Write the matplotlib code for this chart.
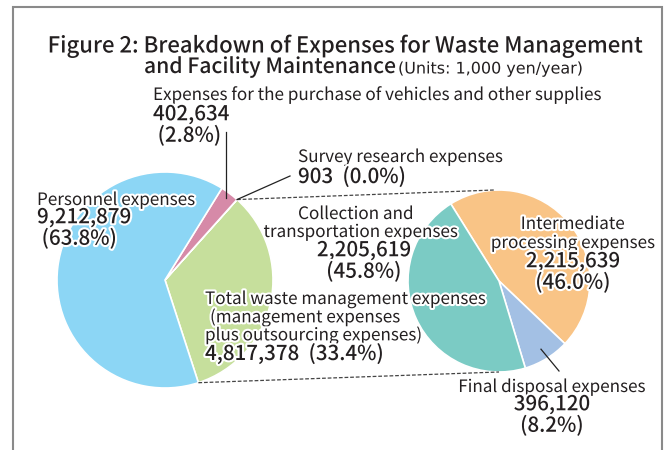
import numpy as np
import matplotlib.pyplot as plt
import matplotlib.patheffects as pe
from matplotlib.patches import Rectangle

plt.rcParams['font.family'] = ['Noto Sans CJK JP', 'DejaVu Sans']

# left pie: overall expenses (1,000 yen/year)
left_labels = ['Total waste management expenses', 'Survey research expenses',
               'Expenses for the purchase of vehicles and other supplies', 'Personnel expenses']
left_values = [4817378, 903, 402634, 9212879]
left_pcts = ['33.4%', '0.0%', '2.8%', '63.8%']
left_colors = ['#c6df9c', '#d68aa8', '#d68aa8', '#8cd6f5']

# right pie: breakdown of total waste management expenses
right_labels = ['Intermediate processing expenses', 'Final disposal expenses',
                'Collection and transportation expenses']
right_values = [2215639, 396120, 2205619]
right_pcts = ['46.0%', '8.2%', '45.8%']
right_colors = ['#f9c486', '#a3c0e4', '#7bcbc4']

W, H = 667, 450
fig = plt.figure(figsize=(W / 100, H / 100), dpi=100)
ax = fig.add_axes([0, 0, 1, 1])

c1, r1 = (165, 170), 108
c2, r2 = (499, 169), 91

lw, _ = ax.pie(left_values, colors=left_colors, center=c1, radius=r1, startangle=-72,
               counterclock=True, wedgeprops=dict(edgecolor='white', linewidth=1.2))
rw, _ = ax.pie(right_values, colors=right_colors, center=c2, radius=r2, startangle=122,
               counterclock=False, wedgeprops=dict(edgecolor='white', linewidth=1.2))

ax.set_xlim(0, W)
ax.set_ylim(0, H)
ax.set_aspect('equal')
ax.axis('off')

# frame
ax.add_patch(Rectangle((13, -10), 649, H - 7 + 10, fill=False, edgecolor='#8a8a8a', lw=1.5))


def polar(c, r, ang):
    a = np.deg2rad(ang)
    return c[0] + r * np.cos(a), c[1] + r * np.sin(a)


# dashed connectors from the green wedge to the right pie
g = lw[0]
p_top = polar(c1, r1, g.theta2)
p_bot = polar(c1, r1, g.theta1)
ax.plot([p_top[0], c2[0] - 5], [p_top[1], c2[1] + r2], ls=(0, (3, 1.5)), color='#444', lw=0.9)
ax.plot([p_bot[0], c2[0]], [p_bot[1], c2[1] - r2], ls=(0, (3, 1.5)), color='#444', lw=0.9)

# leader lines
veh = lw[2]
pv = polar(c1, r1 * 0.95, (veh.theta1 + veh.theta2) / 2)
ax.plot([pv[0], pv[0]], [pv[1], H - 132], color='#222', lw=0.9)
ps = polar(c1, r1, lw[1].theta1)
ax.plot([ps[0], 290], [ps[1], H - 176], color='#222', lw=0.9)
fd = rw[1]
pf = polar(c2, r2 * 0.88, (fd.theta1 + fd.theta2) / 2)
ax.plot([pf[0], 559], [pf[1], H - 371], color='#222', lw=0.9)

tc = '#231f20'
halo = [pe.withStroke(linewidth=3, foreground='white')]
LAB, NUM, LS = 12.3, 14.8, 0.97


def txt(x, y, s, size=LAB, weight='normal', ha='left', **kw):
    ax.text(x, H - y, s, fontsize=size, fontweight=weight, ha=ha, va='center',
            color=tc, path_effects=halo, **kw)


# title
txt(345, 46, 'Figure 2: Breakdown of Expenses for Waste Management', 15.9, 'medium', 'center')
txt(144, 67, 'and Facility Maintenance', 15.2, 'medium')
txt(398, 69, '(Units: 1,000 yen/year)', 11.5, family='DejaVu Sans')

txt(153, 95, left_labels[2])
txt(153, 125, f'{left_values[2]:,}\n (2.8%)', NUM, 'medium', linespacing=LS)

txt(298, 157, left_labels[1])
txt(298, 177, f'{left_values[1]:,}  ({left_pcts[1]})', NUM, 'medium')

txt(37, 200, left_labels[3])
txt(37, 228, f'{left_values[3]:,}\n ({left_pcts[3]})', NUM, 'medium', linespacing=LS)

txt(205, 299, left_labels[0])
txt(210, 317, '(management expenses')
txt(205, 335, 'plus outsourcing expenses)')
txt(205, 354, f'{left_values[0]:,}  ({left_pcts[0]})', NUM, 'medium')

txt(356, 214, 'Collection and', ha='center')
txt(361, 232, 'transportation expenses', ha='center')
txt(364, 261, f'{right_values[2]:,}\n({right_pcts[2]})', NUM, 'medium', 'center', linespacing=LS)

txt(573, 224, 'Intermediate', ha='center')
txt(573, 243, 'processing expenses', ha='center')
txt(573, 272, f'{right_values[0]:,}\n({right_pcts[0]})', NUM, 'medium', 'center', linespacing=LS)

txt(552, 387, right_labels[1], ha='center')
txt(552, 415, f'{right_values[1]:,}\n({right_pcts[1]})', NUM, 'medium', 'center', linespacing=LS)

fig.savefig('out.png', dpi=100)
